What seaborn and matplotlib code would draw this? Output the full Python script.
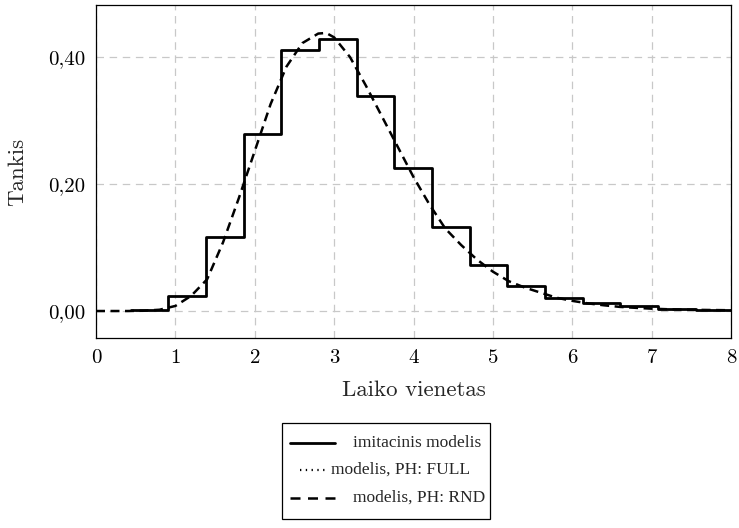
import numpy as np
import pandas as pd
import matplotlib
matplotlib.use("Agg")
import matplotlib.pyplot as plt
from matplotlib.lines import Line2D
from matplotlib.patches import Rectangle
import seaborn as sns

# Simulation histogram (bin edges and normalised density per bin)
bin_edges = [0.44, 0.91, 1.39, 1.87, 2.33, 2.81, 3.29, 3.76, 4.23,
             4.71, 5.18, 5.66, 6.14, 6.60, 7.08, 7.56, 8.03]
sim_density = [0.0016, 0.024, 0.117, 0.279, 0.411, 0.428, 0.339, 0.225,
               0.132, 0.073, 0.040, 0.020, 0.0126, 0.0080, 0.0037, 0.0016]

# Phase-type model density evaluated on a time grid
t_grid = [0.0, 0.4, 0.6, 0.8, 1.0, 1.2, 1.4, 1.6, 1.8, 2.0, 2.2, 2.4, 2.6,
          2.8, 2.9, 3.0, 3.2, 3.4, 3.6, 3.8, 4.0, 4.2, 4.4, 4.6, 4.8, 5.0,
          5.2, 5.4, 5.6, 5.8, 6.0, 6.2, 6.4, 6.6, 6.8, 7.0, 7.2, 7.4, 7.6,
          7.8, 8.0]
ph_rnd_density = [0.0, 0.0, 0.0005, 0.002, 0.008, 0.024, 0.050, 0.108,
                  0.178, 0.252, 0.326, 0.385, 0.422, 0.437, 0.438, 0.431,
                  0.400, 0.355, 0.307, 0.259, 0.211, 0.168, 0.130, 0.104,
                  0.081, 0.062, 0.047, 0.037, 0.029, 0.021, 0.016, 0.012,
                  0.009, 0.0065, 0.005, 0.0037, 0.0028, 0.0022, 0.0018,
                  0.0015, 0.0012]

x_ticks = [0, 1, 2, 3, 4, 5, 6, 7, 8]
x_tick_labels = ["0", "1", "2", "3", "4", "5", "6", "7", "8"]
y_ticks = [0.0, 0.2, 0.4]
y_tick_labels = ["0,00", "0,20", "0,40"]
series_labels = ["imitacinis modelis", "modelis, PH: FULL", "modelis, PH: RND"]

sns.set_style("white")
plt.rcParams["axes.unicode_minus"] = False

W, H = 739, 528
fig = plt.figure(figsize=(W / 100, H / 100), dpi=100)
ax = fig.add_axes([96 / W, 1 - 338 / H, 635 / W, 333 / H])

hist_df = pd.DataFrame({
    "t": [(a + b) / 2 for a, b in zip(bin_edges[:-1], bin_edges[1:])],
    "density": sim_density,
})
sns.histplot(data=hist_df, x="t", weights="density", bins=bin_edges,
             stat="count", element="step", fill=False, color="black",
             linewidth=2.0, ax=ax, zorder=3)

dash_style = (0, (3.6, 2.2))
sns.lineplot(x=t_grid, y=ph_rnd_density, ax=ax, color="black",
             linewidth=1.8, linestyle=dash_style, sort=False,
             estimator=None, zorder=4)

ax.set_xlim(0, 8)
ax.set_ylim(-0.0425, 0.482)
ax.set_xticks(x_ticks)
ax.set_xticklabels(x_tick_labels, fontfamily="cmr10")
ax.set_yticks(y_ticks)
ax.set_yticklabels(y_tick_labels, fontfamily="cmr10")
ax.tick_params(direction="out", length=4, width=0.8, color="#808080",
               labelsize=15, pad=4, labelcolor="black")

ax.grid(True, color="#c8c8c8", linewidth=0.9, linestyle=(0, (6, 4.5)))
ax.set_axisbelow(True)
for sp in ax.spines.values():
    sp.set_color("black")
    sp.set_linewidth(0.9)

ax.set_xlabel("Laiko vienetas", fontfamily="cmr10", fontsize=16.5, labelpad=10)
ax.set_ylabel("Tankis", fontfamily="cmr10", fontsize=16.5, labelpad=15)

# Legend box below the axes
def fx(px):
    return px / W

def fy(py):
    return 1 - py / H

fig.add_artist(Rectangle((fx(282), fy(519)), fx(490) - fx(282),
                         fy(423) - fy(519), transform=fig.transFigure,
                         facecolor="white", edgecolor="black", linewidth=0.9))
legend_rows = [
    (443, 290, 335, 353, "-", 2.0),
    (470, 300, 327, 331, (0, (0.6, 2.0)), 1.6),
    (498, 290, 335, 353, (0, (4.0, 3.0)), 1.8),
]
for (py, x0, x1, tx, ls, lw), label in zip(legend_rows, series_labels):
    fig.add_artist(Line2D([fx(x0), fx(x1)], [fy(py), fy(py)],
                          transform=fig.transFigure, color="black",
                          linewidth=lw, linestyle=ls))
    fig.text(fx(tx), fy(py), label, ha="left", va="center",
             fontfamily="Liberation Serif", fontsize=12.5)

fig.savefig("out.png", dpi=100)
